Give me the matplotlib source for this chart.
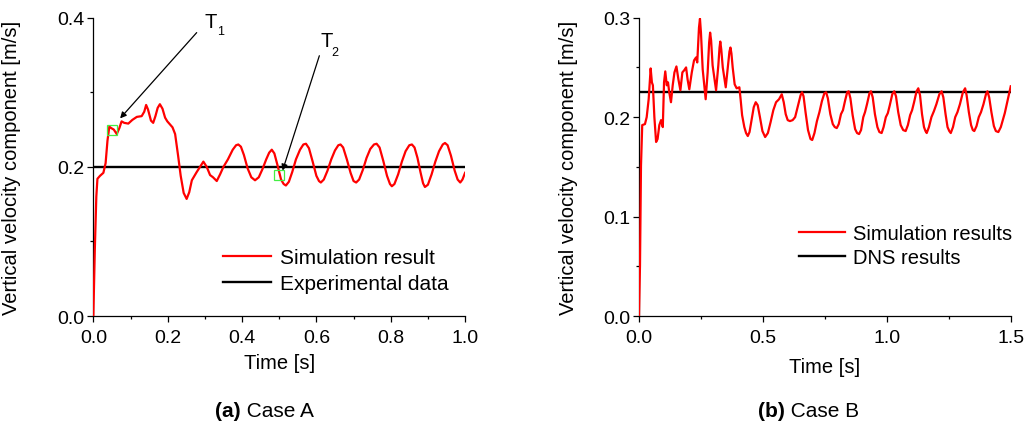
import matplotlib
matplotlib.use("Agg")
import matplotlib.pyplot as plt
from matplotlib.ticker import MultipleLocator

plt.rcParams['font.family'] = ['Liberation Sans', 'DejaVu Sans']
plt.rcParams['font.size'] = 14.5

# Case A: simulation (red) and experiment (black)
tA = [0.0, 0.004, 0.008, 0.011, 0.018, 0.027, 0.033, 0.038, 0.043, 0.048,
      0.055, 0.063, 0.07, 0.076, 0.083, 0.094, 0.105, 0.117, 0.13, 0.137,
      0.142, 0.147, 0.155, 0.161, 0.167, 0.173, 0.179, 0.186, 0.193, 0.199,
      0.206, 0.213, 0.22, 0.228, 0.235, 0.243, 0.251, 0.258, 0.265, 0.278,
      0.287, 0.296, 0.305, 0.314, 0.322, 0.332, 0.341, 0.35, 0.362, 0.375,
      0.384, 0.39, 0.397, 0.405, 0.415, 0.425, 0.435, 0.445, 0.455, 0.465,
      0.473, 0.48, 0.487, 0.495, 0.505, 0.512, 0.518, 0.526, 0.535, 0.545,
      0.556, 0.565, 0.572, 0.58, 0.59, 0.6, 0.607, 0.612, 0.62, 0.63,
      0.64, 0.65, 0.659, 0.665, 0.672, 0.682, 0.692, 0.7, 0.707, 0.715,
      0.725, 0.735, 0.745, 0.755, 0.762, 0.77, 0.78, 0.79, 0.798, 0.803,
      0.81, 0.82, 0.83, 0.84, 0.85, 0.857, 0.864, 0.872, 0.88, 0.887,
      0.892, 0.9, 0.91, 0.92, 0.93, 0.94, 0.946, 0.953, 0.962, 0.972,
      0.98, 0.987, 0.993, 1.0]
vA = [0.0, 0.09, 0.16, 0.184, 0.188, 0.192, 0.205, 0.235, 0.254, 0.252,
      0.25, 0.244, 0.252, 0.261, 0.259, 0.258, 0.263, 0.267, 0.268, 0.274,
      0.283, 0.277, 0.262, 0.259, 0.268, 0.279, 0.284, 0.278, 0.266, 0.261,
      0.257, 0.253, 0.244, 0.215, 0.188, 0.165, 0.157, 0.166, 0.182, 0.193,
      0.2, 0.207, 0.2, 0.189, 0.186, 0.181, 0.19, 0.2, 0.21, 0.223,
      0.229, 0.23, 0.227, 0.216, 0.198, 0.186, 0.182, 0.186, 0.197, 0.21,
      0.219, 0.223, 0.218, 0.203, 0.183, 0.177, 0.175, 0.18, 0.193, 0.21,
      0.223, 0.23, 0.231, 0.225, 0.207, 0.188, 0.181, 0.179, 0.183, 0.195,
      0.21, 0.222, 0.229, 0.23, 0.226, 0.21, 0.192, 0.181, 0.179, 0.183,
      0.196, 0.212, 0.224, 0.23, 0.231, 0.226, 0.208, 0.188, 0.177, 0.174,
      0.177, 0.19, 0.207, 0.221, 0.229, 0.23, 0.226, 0.212, 0.193, 0.178,
      0.173, 0.176, 0.19, 0.207, 0.221, 0.23, 0.232, 0.229, 0.215, 0.195,
      0.183, 0.179, 0.183, 0.192]
expA = 0.2

# picked instants T1, T2 (green boxes)
markA_t = [0.0495, 0.5]
markA_v = [0.249, 0.189]

# Case B: simulation (red) and DNS (black)
tB = [0.0, 0.004, 0.008, 0.013, 0.024, 0.031, 0.039, 0.047, 0.052, 0.056,
      0.062, 0.069, 0.075, 0.082, 0.089, 0.096, 0.101, 0.106, 0.112, 0.117,
      0.122, 0.129, 0.136, 0.143, 0.151, 0.159, 0.167, 0.175, 0.182, 0.19,
      0.196, 0.203, 0.213, 0.222, 0.23, 0.235, 0.242, 0.246, 0.25, 0.257,
      0.269, 0.277, 0.283, 0.287, 0.291, 0.297, 0.311, 0.32, 0.325, 0.328,
      0.332, 0.338, 0.35, 0.359, 0.365, 0.369, 0.373, 0.378, 0.386, 0.394,
      0.405, 0.41, 0.416, 0.425, 0.432, 0.439, 0.446, 0.455, 0.463, 0.471,
      0.479, 0.488, 0.498, 0.509, 0.52, 0.531, 0.542, 0.553, 0.565, 0.576,
      0.584, 0.592, 0.6, 0.609, 0.62, 0.63, 0.642, 0.652, 0.658, 0.664,
      0.672, 0.682, 0.692, 0.699, 0.708, 0.718, 0.728, 0.738, 0.748, 0.755,
      0.762, 0.772, 0.782, 0.79, 0.798, 0.806, 0.815, 0.823, 0.832, 0.84,
      0.846, 0.853, 0.862, 0.872, 0.88, 0.888, 0.896, 0.905, 0.912, 0.92,
      0.93, 0.936, 0.943, 0.952, 0.962, 0.97, 0.979, 0.987, 0.996, 1.004,
      1.012, 1.022, 1.03, 1.037, 1.046, 1.056, 1.066, 1.076, 1.085, 1.094,
      1.102, 1.11, 1.12, 1.127, 1.134, 1.142, 1.15, 1.156, 1.161, 1.17,
      1.18, 1.19, 1.2, 1.212, 1.221, 1.228, 1.237, 1.245, 1.252, 1.258,
      1.267, 1.276, 1.285, 1.295, 1.307, 1.316, 1.322, 1.331, 1.34, 1.347,
      1.353, 1.362, 1.371, 1.38, 1.39, 1.4, 1.406, 1.413, 1.422, 1.432,
      1.44, 1.45, 1.46, 1.468, 1.476, 1.484, 1.492, 1.5]
vB = [0.0, 0.051, 0.151, 0.192, 0.193, 0.2, 0.218, 0.249, 0.235, 0.232,
      0.2, 0.175, 0.178, 0.192, 0.197, 0.19, 0.235, 0.246, 0.232, 0.235,
      0.225, 0.215, 0.232, 0.245, 0.251, 0.238, 0.227, 0.245, 0.247, 0.25,
      0.238, 0.228, 0.245, 0.257, 0.26, 0.255, 0.29, 0.299, 0.285, 0.248,
      0.218, 0.245, 0.275, 0.285, 0.277, 0.252, 0.227, 0.252, 0.27, 0.276,
      0.268, 0.25, 0.23, 0.252, 0.266, 0.27, 0.264, 0.25, 0.233, 0.229,
      0.23, 0.218, 0.202, 0.19, 0.184, 0.181, 0.185, 0.198, 0.21, 0.215,
      0.212, 0.2, 0.186, 0.18, 0.184, 0.195, 0.207, 0.215, 0.218, 0.223,
      0.215, 0.203, 0.197, 0.196, 0.197, 0.2, 0.212, 0.222, 0.225, 0.221,
      0.205, 0.187, 0.178, 0.177, 0.184, 0.196, 0.205, 0.216, 0.224, 0.225,
      0.219, 0.203, 0.193, 0.19, 0.189, 0.193, 0.203, 0.207, 0.217, 0.225,
      0.226, 0.219, 0.202, 0.188, 0.184, 0.183, 0.187, 0.2, 0.205, 0.213,
      0.224, 0.226, 0.22, 0.203, 0.19, 0.185, 0.184, 0.19, 0.2, 0.204,
      0.212, 0.223, 0.226, 0.221, 0.205, 0.192, 0.187, 0.186, 0.192, 0.202,
      0.207, 0.215, 0.226, 0.229, 0.222, 0.203, 0.19, 0.186, 0.184, 0.19,
      0.2, 0.206, 0.213, 0.223, 0.226, 0.22, 0.203, 0.19, 0.186, 0.184,
      0.19, 0.2, 0.205, 0.213, 0.225, 0.229, 0.222, 0.205, 0.192, 0.187,
      0.186, 0.191, 0.2, 0.205, 0.213, 0.223, 0.226, 0.22, 0.205, 0.191,
      0.186, 0.185, 0.19, 0.197, 0.204, 0.213, 0.222, 0.231]
dnsB = 0.2255

fig = plt.figure(figsize=(10.28, 4.27), dpi=100)
axA = fig.add_axes([0.0908, 0.2576, 0.3616, 0.6986])
axB = fig.add_axes([0.6216, 0.2576, 0.3616, 0.6986])


def style(ax):
    for s in ('top', 'right'):
        ax.spines[s].set_visible(False)
    for s in ('left', 'bottom'):
        ax.spines[s].set_linewidth(0.9)
    ax.tick_params(which='major', direction='out', length=4, width=0.9,
                   pad=2.5, labelsize=14)
    ax.tick_params(which='minor', direction='out', length=2.5, width=0.9)
    ax.tick_params(axis='x', which='major', pad=5.5)


# --- Case A
axA.plot(tA, vA, color='#ff0000', lw=1.6, label='Simulation result', zorder=3)
axA.axhline(expA, color='black', lw=1.7, label='Experimental data', zorder=2)
axA.plot(markA_t, markA_v, ls='none', marker='s', ms=7.5, mfc='none',
         mec='#44ee44', mew=0.9, zorder=4)
axA.set_xlim(0, 1.0)
axA.set_ylim(0, 0.4)
axA.xaxis.set_major_locator(MultipleLocator(0.2))
axA.xaxis.set_minor_locator(MultipleLocator(0.1))
axA.yaxis.set_major_locator(MultipleLocator(0.2))
axA.yaxis.set_minor_locator(MultipleLocator(0.1))
style(axA)
axA.set_xlabel('Time [s]', fontsize=14.5, labelpad=5)
axA.set_ylabel('Vertical velocity component [m/s]', fontsize=14.5)
axA.yaxis.set_label_coords(-0.1945, 0.5)

arrow = dict(arrowstyle='-|>', color='black', lw=0.9, mutation_scale=9,
             shrinkA=0, shrinkB=0)
axA.annotate('', xy=(0.072, 0.265), xytext=(0.278, 0.380), arrowprops=arrow)
axA.annotate('', xy=(0.509, 0.195), xytext=(0.608, 0.349), arrowprops=arrow)
axA.text(0.300, 0.3875, 'T', fontsize=14.5, ha='left', va='baseline')
axA.text(0.333, 0.378, '1', fontsize=9, ha='left', va='baseline')
axA.text(0.610, 0.362, 'T', fontsize=14.5, ha='left', va='baseline')
axA.text(0.639, 0.350, '2', fontsize=9, ha='left', va='baseline')

axA.legend(loc='center left', bbox_to_anchor=(0.35, 0.152), frameon=False,
           fontsize=15, handlelength=2.3, handletextpad=0.4,
           labelspacing=0.35, borderpad=0, borderaxespad=0)

# --- Case B
axB.plot(tB, vB, color='#ff0000', lw=1.6, label='Simulation results', zorder=3)
axB.axhline(dnsB, color='black', lw=1.7, label='DNS results', zorder=2)
axB.set_xlim(0, 1.5)
axB.set_ylim(0, 0.3)
axB.xaxis.set_major_locator(MultipleLocator(0.5))
axB.xaxis.set_minor_locator(MultipleLocator(0.25))
axB.yaxis.set_major_locator(MultipleLocator(0.1))
axB.yaxis.set_minor_locator(MultipleLocator(0.05))
style(axB)
axB.set_xlabel('Time [s]', fontsize=14.5, labelpad=8)
axB.set_ylabel('Vertical velocity component [m/s]', fontsize=14.5)
axB.yaxis.set_label_coords(-0.165, 0.5)

axB.legend(loc='center left', bbox_to_anchor=(0.43, 0.235), frameon=False,
           fontsize=14.5, handlelength=2.3, handletextpad=0.4,
           labelspacing=0.25, borderpad=0, borderaxespad=0)

# --- captions
cy = 1 - 412 / 427
fig.text(241 / 1028, cy, '(a)', fontsize=15, fontweight='bold',
         ha='right', va='center')
fig.text(241 / 1028, cy, ' Case A', fontsize=15, ha='left', va='center')
fig.text(785 / 1028, cy, '(b)', fontsize=15, fontweight='bold',
         ha='right', va='center')
fig.text(785 / 1028, cy, ' Case B', fontsize=15, ha='left', va='center')

fig.savefig('out.png', dpi=100)
